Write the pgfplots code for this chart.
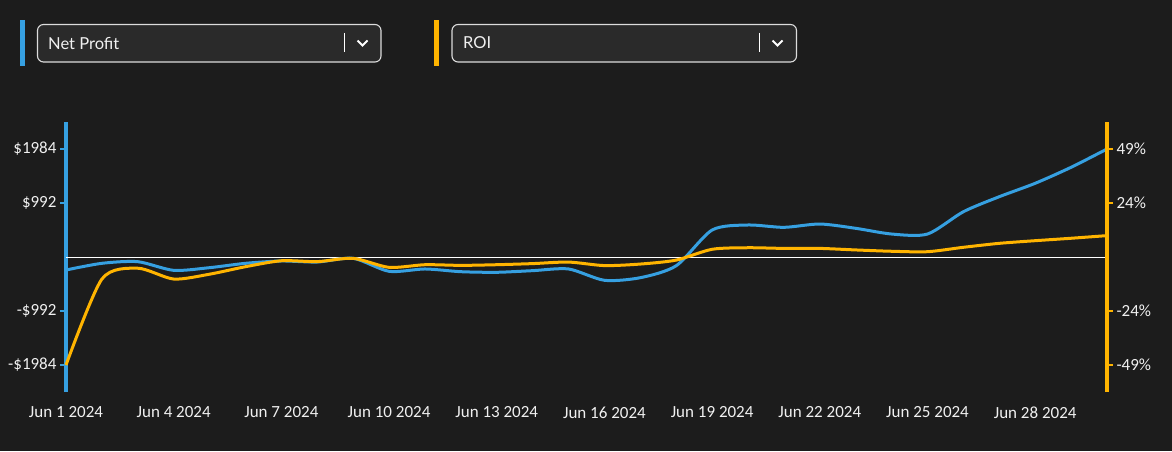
\documentclass[border=0pt]{standalone}
\usepackage{pgfplots}
\pgfplotsset{compat=1.18}
\usepackage{fontspec}
\setmainfont{Carlito}
\newfontfamily\latofont{Lato}
\definecolor{bg}{RGB}{28,28,28}
\definecolor{boxfill}{RGB}{42,42,42}
\definecolor{boxborder}{RGB}{220,220,220}
\definecolor{npblue}{RGB}{54,160,225}
\definecolor{roiyellow}{RGB}{255,180,0}
\definecolor{labeltext}{RGB}{240,240,240}
\begin{document}
\begin{tikzpicture}[x=1pt,y=1pt]
\fill[bg] (0,0) rectangle (1172,451);
% dropdown 1
\fill[npblue] (20,385) rectangle (25,431);
\draw[boxborder, fill=boxfill, rounded corners=6pt, line width=1.1pt] (37.5,389) rectangle (381,426.5);
\node[anchor=west, inner sep=0pt, text=labeltext, font=\latofont\fontsize{16.5}{19}\selectfont] at (48,408) {Net Profit};
\draw[white, line width=1.1pt] (344.5,418) -- (344.5,399);
\draw[white, line width=2.1pt] (357.5,410.5) -- (362.5,405.5) -- (367.5,410.5);
% dropdown 2
\fill[roiyellow] (434,385) rectangle (439,431);
\draw[boxborder, fill=boxfill, rounded corners=6pt, line width=1.1pt] (452,389) rectangle (796.5,426.5);
\node[anchor=west, inner sep=0pt, text=labeltext, font=\latofont\fontsize{16.5}{19}\selectfont] at (463,408) {ROI};
\draw[white, line width=1.1pt] (759.5,418) -- (759.5,399);
\draw[white, line width=2.1pt] (772.5,410.5) -- (777.5,405.5) -- (782.5,410.5);

\begin{axis}[
  at={(66pt,59pt)}, anchor=south west,
  width=1041pt, height=270pt, scale only axis,
  xmin=1, xmax=30, ymin=-2480, ymax=2480,
  axis y line*=left, axis x line*=bottom,
  x axis line style={draw=none},
  y axis line style={npblue, line width=3.4pt, -},
  xtick={1,4,7,10,13,16,19,22,25,28},
  xticklabels={Jun 1 2024,Jun 4 2024,Jun 7 2024,Jun 10 2024,Jun 13 2024,Jun 16 2024,Jun 19 2024,Jun 22 2024,Jun 25 2024,Jun 28 2024},
  x tick style={draw=none},
  ytick={-1984,-992,992,1984},
  yticklabels={-\$1984,-\$992,\$992,\$1984},
  y tick style={npblue, line width=1.2pt},
  tick align=outside, major tick length=6pt,
  tick label style={text=labeltext, font=\fontsize{17}{20}\selectfont},
  xticklabel style={yshift=-5pt},
  clip=false,
]
\addplot[white, line width=1pt] coordinates {(1,0) (30,0)};
\addplot[npblue, line width=3pt, smooth, tension=0.45] coordinates {
(1,-239) (2,-116) (3,-86) (4,-245) (5,-196) (6,-116) (7,-73) (8,-92) (9,-24) (10,-263)
(11,-220) (12,-270) (13,-281) (14,-251) (15,-220) (16,-428) (17,-380) (18,-160) (19,496) (20,588)
(21,545) (22,606) (23,527) (24,422) (25,422) (26,832) (27,1108) (28,1354) (29,1648) (30,1984)
};
\end{axis}
\begin{axis}[
  at={(66pt,59pt)}, anchor=south west,
  width=1041pt, height=270pt, scale only axis,
  xmin=1, xmax=30, ymin=-61.25, ymax=61.25,
  axis y line*=right, axis x line=none,
  y axis line style={roiyellow, line width=3.4pt, -},
  ytick={-49,-24.5,24.5,49},
  yticklabels={-49\%,-24\%,24\%,49\%},
  y tick style={roiyellow, line width=1.2pt},
  tick align=outside, major tick length=6pt,
  tick label style={text=labeltext, font=\fontsize{17}{20}\selectfont},
  clip=false,
]
\addplot[roiyellow, line width=3pt, smooth, tension=0.45] coordinates {
(1,-49) (2,-10) (3,-5.1) (4,-10) (5,-7.8) (6,-4.4) (7,-1.7) (8,-2.1) (9,-0.6) (10,-4.7)
(11,-3.5) (12,-3.8) (13,-3.5) (14,-3.0) (15,-2.3) (16,-3.9) (17,-3.2) (18,-1.4) (19,3.5) (20,4.2)
(21,3.9) (22,3.9) (23,3.2) (24,2.6) (25,2.4) (26,4.4) (27,6.2) (28,7.4) (29,8.5) (30,9.7)
};
\end{axis}
\pgfresetboundingbox
\useasboundingbox (0,0) rectangle (1172,451);
\end{tikzpicture}
\end{document}
